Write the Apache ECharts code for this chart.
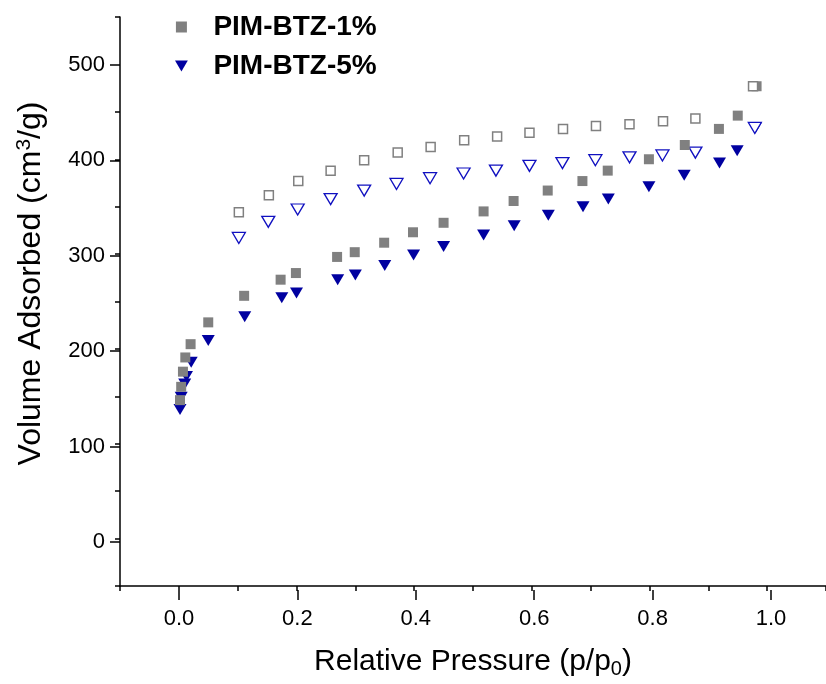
<!DOCTYPE html>
<html>
<head>
<meta charset="utf-8">
<script src="https://cdn.jsdelivr.net/npm/echarts@6/dist/echarts.min.js"></script>
<style>
  html, body { margin: 0; padding: 0; background: #fff; }
  #chart { width: 826px; height: 684px; }
</style>
</head>
<body>
<div id="chart"></div>
<script>
// PIM-BTZ-1% adsorption (filled squares) [p/p0, volume]
const ads1 = [
  [0.002, 146], [0.004, 160], [0.007, 176], [0.011, 191], [0.020, 205],
  [0.050, 228], [0.111, 256], [0.173, 273], [0.199, 280], [0.269, 297],
  [0.299, 302], [0.349, 312], [0.398, 323], [0.450, 333], [0.518, 345],
  [0.569, 356], [0.627, 367], [0.686, 377], [0.729, 388], [0.799, 400],
  [0.860, 415], [0.918, 432], [0.950, 446], [0.982, 477]
];
// PIM-BTZ-1% desorption (hollow squares)
const des1 = [
  [0.976, 477], [0.878, 443], [0.823, 440], [0.766, 437], [0.709, 435],
  [0.653, 432], [0.596, 428], [0.541, 424], [0.485, 420], [0.428, 413],
  [0.372, 407], [0.315, 399], [0.258, 388], [0.203, 377], [0.153, 362],
  [0.102, 344]
];
// PIM-BTZ-5% adsorption (filled triangles)
const ads5 = [
  [0.002, 136], [0.004, 149], [0.010, 163], [0.013, 171], [0.021, 186],
  [0.050, 209], [0.112, 234], [0.175, 254], [0.200, 259], [0.270, 273],
  [0.300, 278], [0.350, 288], [0.399, 299], [0.450, 308], [0.518, 320],
  [0.570, 330], [0.628, 341], [0.687, 350], [0.730, 358], [0.799, 371],
  [0.859, 383], [0.919, 396], [0.949, 409], [0.980, 433]
];
// PIM-BTZ-5% desorption (hollow triangles)
const des5 = [
  [0.979, 433], [0.878, 407], [0.822, 404], [0.766, 402], [0.708, 399],
  [0.652, 396], [0.596, 393], [0.539, 388], [0.484, 385], [0.427, 380],
  [0.370, 374], [0.315, 367], [0.258, 358], [0.202, 347], [0.152, 334],
  [0.102, 317]
];
const legendNames = ['PIM-BTZ-1%', 'PIM-BTZ-5%'];
const xTicks = [0, 1, 0.2];     // min, max, step of labelled ticks
const yTicks = [0, 500, 100];

const chart = echarts.init(document.getElementById('chart'));

const gray = '#808080';
const blue = '#0000a0';
const font = 'Liberation Sans, Arial, sans-serif';

const mainLine = { show: true, onZero: false, lineStyle: { color: '#000', width: 1.5 } };

chart.setOption({
  backgroundColor: '#fff',
  animation: false,
  legend: {
    orient: 'vertical',
    left: 175,
    top: 13,
    padding: 0,
    itemGap: 11,
    itemWidth: 54,
    itemHeight: 11,
    data: [
      { name: legendNames[0], icon: 'path://M0,0h10v10h-10z' },
      { name: legendNames[1], icon: 'path://M0,0L14,0L7,12Z' }
    ],
    textStyle: { fontFamily: font, fontSize: 28, fontWeight: 'bold', color: '#000' }
  },
  grid: [
    { left: 120, right: -4, top: 17, bottom: 94 },   // plot area
    { left: 179, right: 55, top: 17, bottom: 94 },   // x labels
    { left: 120, right: -4, top: 65, bottom: 142 }   // y labels
  ],
  xAxis: [
    {
      gridIndex: 0, type: 'value', min: -0.1, max: 1.1, interval: 0.1,
      axisLine: mainLine,
      axisTick: { show: true, length: 5, lineStyle: { color: '#000', width: 1.5 } },
      axisLabel: { show: false },
      splitLine: { show: false },
      name: '{a|Relative Pressure (p/p}{s|0}{a|)}',
      nameLocation: 'middle',
      nameGap: 58,
      nameTextStyle: {
        rich: {
          a: { fontFamily: font, fontSize: 30, color: '#000' },
          s: { fontFamily: font, fontSize: 20, color: '#000', padding: [15, 0, 0, 0] }
        }
      }
    },
    {
      gridIndex: 1, type: 'value', min: xTicks[0], max: xTicks[1], interval: xTicks[2],
      axisLine: { show: false, onZero: false },
      axisTick: { show: true, length: 10, lineStyle: { color: '#000', width: 1.5 } },
      axisLabel: {
        margin: 18, fontFamily: font, fontSize: 22, color: '#000',
        formatter: v => v.toFixed(1)
      },
      splitLine: { show: false }
    },
    { gridIndex: 2, type: 'value', min: 0, max: 1, show: false }
  ],
  yAxis: [
    {
      gridIndex: 0, type: 'value', min: -50, max: 550, interval: 50,
      axisLine: mainLine,
      axisTick: { show: true, length: 5, lineStyle: { color: '#000', width: 1.5 } },
      axisLabel: { show: false },
      splitLine: { show: false },
      name: '{a|Volume Adsorbed (cm}{u|3}{a|/g)}',
      nameLocation: 'middle',
      nameGap: 72,
      nameTextStyle: {
        padding: [0, 0, 0, 36],
        rich: {
          a: { fontFamily: font, fontSize: 32, color: '#000' },
          u: { fontFamily: font, fontSize: 21, color: '#000', padding: [0, 0, 13, 0] }
        }
      }
    },
    { gridIndex: 1, type: 'value', min: 0, max: 1, show: false },
    {
      gridIndex: 2, type: 'value', min: yTicks[0], max: yTicks[1], interval: yTicks[2],
      axisLine: { show: false, onZero: false },
      axisTick: { show: true, length: 10, lineStyle: { color: '#000', width: 1.5 } },
      axisLabel: { margin: 15, fontFamily: font, fontSize: 22, color: '#000' },
      splitLine: { show: false }
    }
  ],
  series: [
    {
      name: legendNames[1], type: 'scatter', data: ads5,
      symbol: 'triangle', symbolRotate: 180, symbolSize: [13, 11],
      itemStyle: { color: blue, opacity: 1 }
    },
    {
      name: 'PIM-BTZ-5% des', type: 'scatter', data: des5,
      symbol: 'triangle', symbolRotate: 180, symbolSize: [13, 11],
      itemStyle: { color: '#fff', borderColor: '#1010c0', borderWidth: 1.3, opacity: 1 }
    },
    {
      name: legendNames[0], type: 'scatter', data: ads1,
      symbol: 'rect', symbolSize: 10,
      itemStyle: { color: gray, opacity: 1 }
    },
    {
      name: 'PIM-BTZ-1% des', type: 'scatter', data: des1,
      symbol: 'rect', symbolSize: 9,
      itemStyle: { color: '#fff', borderColor: gray, borderWidth: 1.5, opacity: 1 }
    }
  ]
});
</script>
</body>
</html>
